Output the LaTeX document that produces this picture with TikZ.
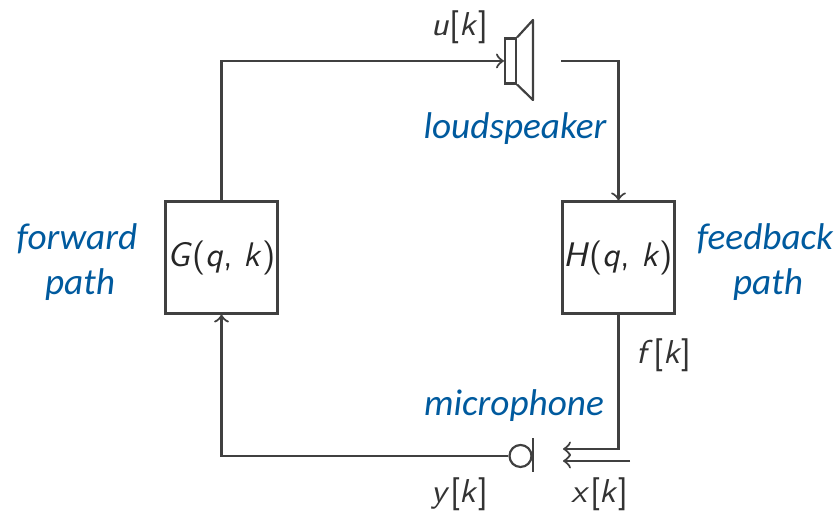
\documentclass[tikz,border=0pt]{standalone}
\usepackage{amsmath,amsfonts}
\usepackage{fontspec}
\setmainfont{Carlito}
\setsansfont{Latin Modern Sans}
\usetikzlibrary{arrows, positioning, calc}
\definecolor{capblue}{HTML}{005A9E}
\definecolor{wire}{HTML}{404040}
\tikzset{
  blockbox/.style={draw=wire,line width=0.62pt,minimum size=1.12cm,inner sep=0pt,font=\sffamily\fontsize{9.7}{12}\selectfont,text=black!85},
  sig/.style={text=black!80,inner sep=0pt,font=\sffamily\fontsize{9.4}{11}\selectfont},
  capt/.style={text=capblue,inner sep=0pt,align=center,font=\itshape\fontsize{10.6}{12.8}\selectfont},
  wirepath/.style={draw=wire,line width=0.62pt},
  tip/.style={wirepath,->,>=to}
}
\begin{document}
\begin{tikzpicture}
\useasboundingbox (0,0) rectangle (8.37,5.12);
% Blocks
\node[blockbox](blk_g) at (2.215,2.545){\textit{G}(\textit{q}, \textit{k})};
\node[blockbox](blk_h) at (6.185,2.545){\textit{H}(\textit{q}, \textit{k})};
% Loudspeaker
\node[wirepath,minimum width=0.11cm,minimum height=0.45cm,inner sep=0pt](spk) at (5.105,4.51){};
\draw[wirepath,line join=round] (spk.north east) -- (5.33,4.92) -- (5.33,4.12) -- (spk.south east);
\coordinate (spk_out) at (5.61,4.51);
% Microphone
\node[wirepath,circle,minimum size=0.22cm,inner sep=0pt](mic) at (5.205,0.56){};
\draw[wirepath] (5.33,0.40) -- (5.33,0.74);
\coordinate (mic_in) at (5.63,0.63);
\coordinate (ext_in) at (6.30,0.51);
\coordinate (ext_tip) at (5.63,0.51);
% Signal paths
\draw[tip] (blk_g.north) |- (spk.west);
\draw[tip] (spk_out) -| (blk_h.north);
\draw[tip] (blk_h.south) |- (mic_in);
\draw[tip] (ext_in) -- (ext_tip);
\draw[tip] (mic.west) -| (blk_g.south);
% Signal labels
\node[sig](sig_u) at (4.60,4.85){\textit{u}[\textit{k}]};
\node[sig](sig_f) at (6.64,1.57){\textit{f}[\textit{k}]};
\node[sig](sig_y) at (4.60,0.18){\textit{y}[\textit{k}]};
\node[sig](sig_x) at (6.00,0.18){\textit{x}[\textit{k}]};
% Captions
\node[capt](cap_spk) at (5.15,3.83){loudspeaker};
\node[capt](cap_mic) at (5.14,1.06){microphone};
\node[capt](cap_fwd) at (0.77,2.50){forward\\\hspace{0.06cm}path};
\node[capt](cap_fb) at (7.65,2.50){feedback\\\hspace{0.06cm}path};
\end{tikzpicture}
\end{document}
